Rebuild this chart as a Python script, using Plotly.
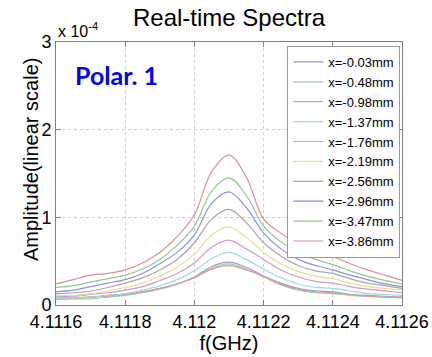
import plotly.graph_objects as go

# Frequency grid (GHz)
freq = [4.1116 + i * 0.00005 for i in range(21)]

labels = ["x=-0.03mm", "x=-0.48mm", "x=-0.98mm", "x=-1.37mm", "x=-1.76mm",
          "x=-2.19mm", "x=-2.56mm", "x=-2.96mm", "x=-3.47mm", "x=-3.86mm"]

# Amplitudes in units of 1e-4
a_003 = [0.08,0.08,0.09,0.11,0.12,0.15,0.19,0.24,0.32,0.44,0.49,0.43,0.33,0.25,0.19,0.16,0.15,0.12,0.11,0.10,0.09]
a_048 = [0.06,0.07,0.07,0.09,0.11,0.14,0.18,0.24,0.31,0.42,0.47,0.41,0.32,0.23,0.17,0.14,0.13,0.11,0.10,0.09,0.08]
a_098 = [0.08,0.08,0.09,0.10,0.12,0.15,0.19,0.24,0.31,0.41,0.45,0.40,0.33,0.24,0.18,0.15,0.14,0.12,0.10,0.09,0.09]
a_137 = [0.07,0.08,0.09,0.11,0.13,0.17,0.22,0.29,0.39,0.53,0.60,0.52,0.41,0.31,0.24,0.20,0.19,0.16,0.13,0.12,0.11]
a_176 = [0.10,0.10,0.12,0.14,0.17,0.21,0.28,0.36,0.48,0.66,0.74,0.64,0.52,0.40,0.32,0.27,0.25,0.21,0.18,0.16,0.14]
a_219 = [0.11,0.11,0.13,0.16,0.20,0.25,0.33,0.43,0.58,0.80,0.89,0.77,0.60,0.47,0.38,0.33,0.30,0.25,0.21,0.19,0.17]
a_256 = [0.13,0.14,0.16,0.20,0.25,0.31,0.40,0.52,0.71,0.98,1.09,0.94,0.71,0.56,0.45,0.39,0.36,0.30,0.25,0.22,0.19]
a_296 = [0.15,0.17,0.21,0.25,0.29,0.36,0.47,0.60,0.80,1.16,1.29,1.11,0.82,0.64,0.52,0.45,0.40,0.34,0.29,0.24,0.21]
a_347 = [0.20,0.22,0.26,0.30,0.34,0.41,0.52,0.68,0.90,1.30,1.45,1.25,0.90,0.72,0.60,0.52,0.46,0.39,0.33,0.28,0.24]
a_386 = [0.24,0.29,0.34,0.36,0.40,0.48,0.60,0.78,1.03,1.52,1.71,1.46,0.98,0.82,0.69,0.60,0.55,0.47,0.40,0.34,0.28]

series = [a_003, a_048, a_098, a_137, a_176, a_219, a_256, a_296, a_347, a_386]
colors = ["#9a9ad8", "#9ccf9c", "#e09a9a", "#96dede", "#d596d5",
          "#e3e38c", "#a8a8a8", "#9090d8", "#8ccc8c", "#d99090"]

scale = 1e-4
xticks = [4.1116, 4.1118, 4.1120, 4.1122, 4.1124, 4.1126]
xticktext = ["4.1116", "4.1118", "4.112", "4.1122", "4.1124", "4.1126"]
yticks = [0, 1, 2, 3]

font = "Liberation Sans, Arial, sans-serif"

fig = go.Figure()
for lab, vals, col in zip(labels, series, colors):
    fig.add_trace(go.Scatter(
        x=freq, y=[v * scale for v in vals], mode="lines", name=lab,
        line=dict(color=col, width=1.2, shape="spline", smoothing=1.0)))

fig.update_layout(
    width=432, height=357,
    margin=dict(l=56, r=30, t=42, b=52, autoexpand=False),
    paper_bgcolor="white", plot_bgcolor="white",
    font=dict(family=font, color="black"),
    title=dict(text="Real-time Spectra", x=0.5, xref="paper", xanchor="center",
               y=0.952, yanchor="middle", font=dict(size=24, family=font, color="black")),
    showlegend=True,
    legend=dict(x=0.995, xanchor="right", y=0.985, yanchor="top",
                bgcolor="white", bordercolor="#9a9a9a", borderwidth=1,
                font=dict(size=13, family=font, color="black"),
                itemwidth=30, tracegroupgap=0),
)

fig.update_xaxes(range=[4.1116, 4.1126], tickvals=xticks, ticktext=xticktext,
                 ticks="inside", ticklen=5, tickcolor="#808080", automargin=False,
                 showline=True, linecolor="#808080", linewidth=1, mirror="ticks",
                 showgrid=True, gridcolor="#d0d0d0", griddash="dot", gridwidth=1,
                 zeroline=False, tickfont=dict(size=18, family=font),
                 title=dict(text="f(GHz)", font=dict(size=20, family=font), standoff=4))
fig.update_yaxes(range=[0, 3 * scale], tickvals=[t * scale for t in yticks],
                 ticktext=[str(t) for t in yticks], automargin=False,
                 ticks="inside", ticklen=5, tickcolor="#808080",
                 showline=True, linecolor="#808080", linewidth=1, mirror="ticks",
                 showgrid=True, gridcolor="#d0d0d0", griddash="dot", gridwidth=1,
                 zeroline=False, tickfont=dict(size=18, family=font))

fig.add_annotation(text="Amplitude(linear scale)", textangle=-90,
                   xref="paper", yref="paper", x=(31 - 56) / 346, y=(305 - 160) / 263,
                   xanchor="center", yanchor="middle", showarrow=False,
                   font=dict(size=20, family=font, color="black"))
fig.add_annotation(text="x 10<sup>-4</sup>", xref="paper", yref="paper",
                   x=0, y=1, xanchor="left", yanchor="bottom", showarrow=False,
                   font=dict(size=16, family=font, color="black"))
fig.add_annotation(text="<b>Polar. 1</b>", xref="paper", yref="paper",
                   x=(116 - 56) / 346, y=(305 - 75) / 263, xanchor="center", yanchor="middle",
                   showarrow=False, font=dict(size=25, family="Lato, Open Sans, sans-serif", color="#0000ff"))

fig.write_html("out.html")
